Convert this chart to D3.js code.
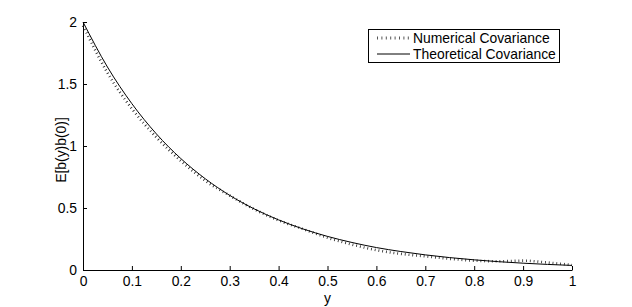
<!DOCTYPE html>
<html>
<head>
<meta charset="utf-8">
<script src="https://cdn.jsdelivr.net/npm/d3@7"></script>
<style>
  body { margin: 0; background: #fff; }
  svg { font-family: "Liberation Sans", Arial, sans-serif; }
</style>
</head>
<body>
<svg width="632" height="307"></svg>
<script>
// sample positions along y
const yPos = [0, 0.05, 0.1, 0.15, 0.2, 0.25, 0.3, 0.35, 0.4, 0.45, 0.5,
              0.55, 0.6, 0.65, 0.7, 0.75, 0.8, 0.85, 0.9, 0.95, 1];
// theoretical covariance
const theoretical = [2.0, 1.637, 1.341, 1.098, 0.899, 0.736, 0.602, 0.493, 0.404, 0.331, 0.271,
                     0.222, 0.181, 0.149, 0.122, 0.100, 0.082, 0.067, 0.055, 0.045, 0.037];
// numerical covariance (noisy, dotted)
const numerical = [1.98, 1.60, 1.31, 1.08, 0.89, 0.73, 0.61, 0.50, 0.41, 0.34, 0.27,
                   0.215, 0.17, 0.14, 0.12, 0.10, 0.085, 0.08, 0.085, 0.07, 0.05];
const xTicks = [0, 0.1, 0.2, 0.3, 0.4, 0.5, 0.6, 0.7, 0.8, 0.9, 1];
const yTicks = [0, 0.5, 1, 1.5, 2];
const legendLabels = ["Numerical Covariance", "Theoretical Covariance"];

const svg = d3.select('svg');
const mLeft = 83, mRight = 572, mTop = 22, mBottom = 270;
const fs = '13.9px';

const xScale = d3.scaleLinear().domain([0, 1]).range([mLeft, mRight]);
const yScale = d3.scaleLinear().domain([0, 2]).range([mBottom, mTop]);

// axes, ticks pointing inward like matlab
const xAxis = d3.axisBottom(xScale).tickValues(xTicks).tickSizeInner(-4).tickSizeOuter(0)
    .tickPadding(6).tickFormat(d => d3.format("")(d));
const yAxis = d3.axisLeft(yScale).tickValues(yTicks).tickSizeInner(-4).tickSizeOuter(0)
    .tickPadding(6).tickFormat(d => d3.format("")(d));

const gx = svg.append('g').attr('transform', `translate(0,${mBottom})`).call(xAxis);
const gy = svg.append('g').attr('transform', `translate(${mLeft},0)`).call(yAxis);
[gx, gy].forEach(g => {
    g.selectAll('text').style('font-size', fs).attr('fill', '#000');
    g.selectAll('line, path').attr('stroke', '#000');
    g.select('.domain').attr('stroke-width', 1);
});
gx.selectAll('text').attr('dy', '0.71em');

const line = d3.line().x((d, i) => xScale(yPos[i])).y(d => yScale(d)).curve(d3.curveMonotoneX);

// dotted line drawn as short perpendicular ticks
svg.append('path')
    .datum(numerical)
    .attr('d', line)
    .attr('fill', 'none')
    .attr('stroke', '#222')
    .attr('stroke-width', 2.6)
    .attr('stroke-dasharray', '0.8,3')
    .attr('transform', 'translate(0,1.2)');

svg.append('path')
    .datum(theoretical)
    .attr('d', line)
    .attr('fill', 'none')
    .attr('stroke', '#000')
    .attr('stroke-width', 1);

// axis labels
svg.append('text')
    .attr('x', (mLeft + mRight) / 2)
    .attr('y', 303)
    .attr('text-anchor', 'middle')
    .style('font-size', fs)
    .text('y');

svg.append('text')
    .attr('transform', `translate(66,${(mTop + mBottom) / 2 + 4}) rotate(-90)`)
    .attr('text-anchor', 'middle')
    .style('font-size', fs)
    .text('E[b(y)b(0)]');

// legend
const lg = svg.append('g');
lg.append('rect')
    .attr('x', 368.5).attr('y', 29.5).attr('width', 191).attr('height', 33)
    .attr('fill', '#fff').attr('stroke', '#000').attr('stroke-width', 1);
legendLabels.forEach((label, i) => {
    const yy = 38 + i * 16;
    lg.append('line')
        .attr('x1', 377).attr('x2', 410).attr('y1', yy).attr('y2', yy)
        .attr('stroke', i === 0 ? '#555' : '#000')
        .attr('stroke-width', i === 0 ? 3 : 1)
        .attr('stroke-dasharray', i === 0 ? '1,3.4' : null);
    lg.append('text')
        .attr('x', 413).attr('y', yy).attr('dy', '0.35em')
        .style('font-size', fs)
        .text(label);
});
</script>
</body>
</html>
